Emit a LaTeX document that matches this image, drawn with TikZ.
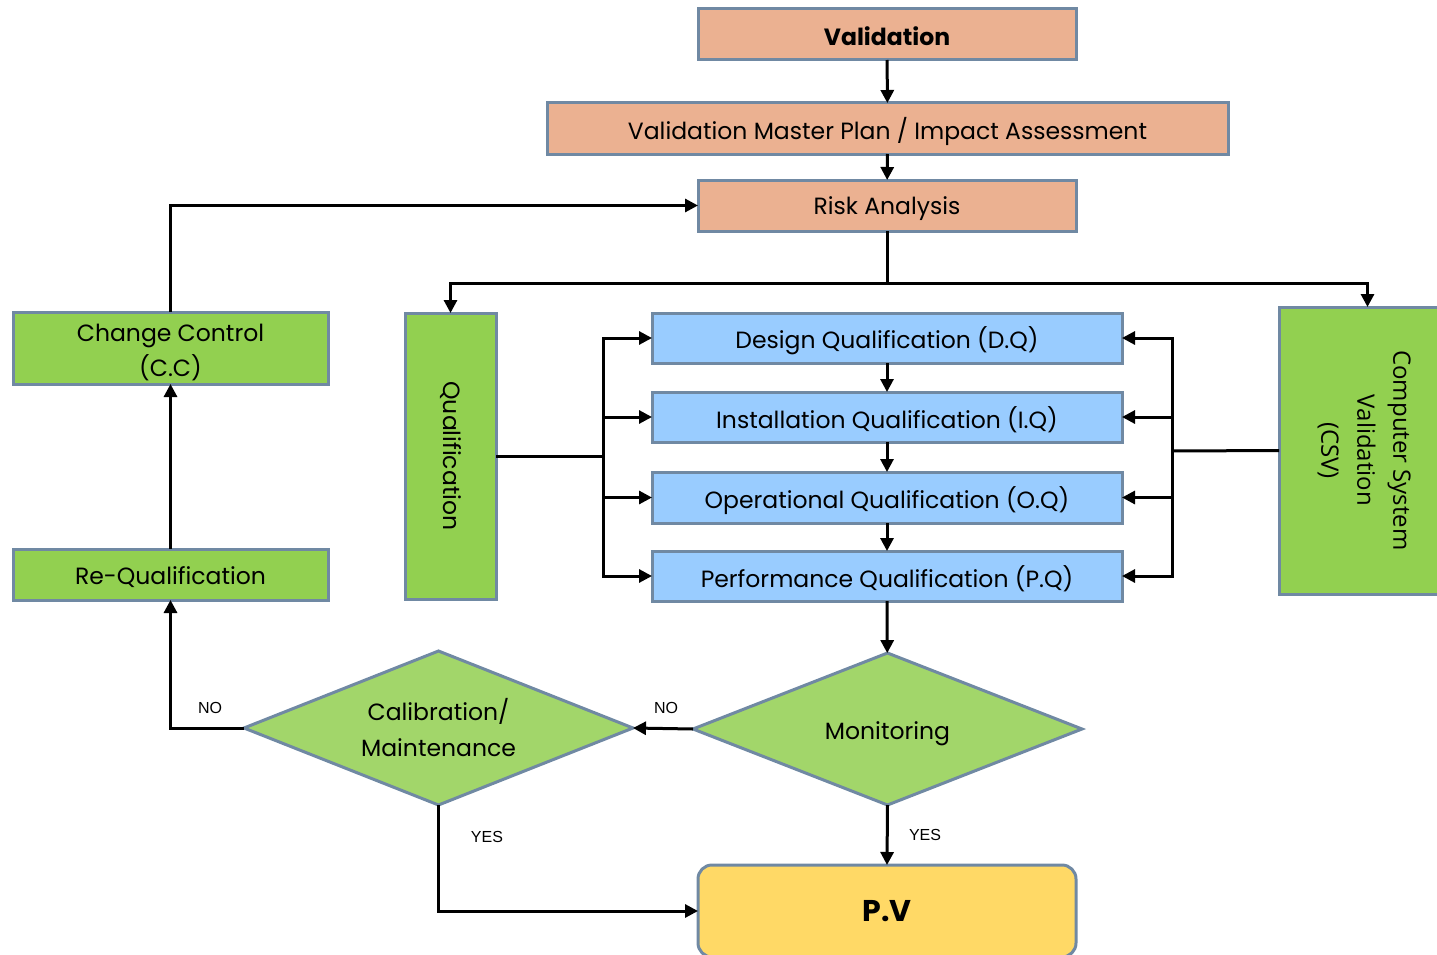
\documentclass[tikz,border=0pt]{standalone}
\usepackage{fontspec}
\setmainfont{Poppins}
\newfontfamily\csvfont{Open Sans}
\newfontfamily\lblfont{Liberation Sans}
\usetikzlibrary{shapes.geometric,arrows.meta,calc}
\definecolor{salmon}{HTML}{EBB191}
\definecolor{bord}{HTML}{7089A3}
\definecolor{bluebox}{HTML}{99CCFF}
\definecolor{greenbox}{HTML}{92D050}
\definecolor{greendia}{HTML}{A2D66A}
\definecolor{pvyellow}{HTML}{FFD966}
\newcommand{\dn}[2][3pt]{\raisebox{-#1}[\height][\depth]{#2}}
\tikzset{
  box/.style={draw=bord, line width=3pt, inner sep=0pt, outer sep=0pt, align=center, font=\fontsize{23.5}{35}\selectfont},
  salmonbox/.style={box, fill=salmon},
  bluebx/.style={box, fill=bluebox},
  greenbx/.style={box, fill=greenbox},
  dia/.style={diamond, shape aspect=2.5, draw=bord, line width=3pt, fill=greendia, inner sep=0pt, outer sep=0pt, align=center, font=\fontsize{23.5}{36}\selectfont},
  arr/.style={line width=3pt, -{Triangle[length=13pt,width=13pt]}},
  ln/.style={line width=3pt},
  lbl/.style={font=\lblfont\fontsize{16}{18}\selectfont, inner sep=0pt}
}
\begin{document}
\begin{tikzpicture}[x=1pt,y=-1pt]
\useasboundingbox (0,0) rectangle (1437,955);
% top chain
\node[salmonbox, minimum width=378pt, minimum height=51pt, font=\fontsize{23.5}{26}\selectfont\bfseries] (val) at (887,34.5) {\dn[2pt]{Validation}};
\node[salmonbox, minimum width=681pt, minimum height=51pt] (vmp) at (887.5,128.5) {\dn{Validation Master Plan / Impact Assessment}};
\node[salmonbox, minimum width=378pt, minimum height=51pt] (risk) at (887,205.5) {\dn{Risk Analysis}};
% side columns
\node[greenbx, minimum width=91pt, minimum height=286pt] (qual) at (450.5,456) {\rotatebox{-90}{Qualification}};
\node[greenbx, minimum width=171pt, minimum height=287pt] (csv) at (1364.5,450.5) {\rotatebox{-90}{\csvfont\fontsize{24}{36}\selectfont\begin{tabular}{@{}c@{}}Computer System\\Validation\\(CSV)\end{tabular}}};
% qualification boxes
\node[bluebx, minimum width=470pt, minimum height=50pt] (dq) at (887,338) {\dn{Design Qualification (D.Q)}};
\node[bluebx, minimum width=470pt, minimum height=50pt] (iq) at (887,417) {\dn{Installation Qualification (I.Q)}};
\node[bluebx, minimum width=470pt, minimum height=51pt] (oq) at (887,497.5) {\dn{Operational Qualification (O.Q)}};
\node[bluebx, minimum width=470pt, minimum height=50pt] (pq) at (887,576) {\dn{Performance Qualification (P.Q)}};
% left boxes
\node[greenbx, minimum width=315pt, minimum height=72pt] (cc) at (170.5,348) {\dn[4pt]{\begin{tabular}{@{}c@{}}Change Control\\(C.C)\end{tabular}}};
\node[greenbx, minimum width=315pt, minimum height=51pt] (rq) at (170.5,574.5) {\dn{Re-Qualification}};
% diamonds
\node[dia, minimum width=389pt, minimum height=152pt] (mon) at (887.5,729) {\dn[5pt]{Monitoring}};
\node[dia, minimum width=389pt, minimum height=154pt] (cal) at (438.5,728) {\dn{\begin{tabular}{@{}c@{}}Calibration/\\Maintenance\end{tabular}}};
% PV
\node[box, fill=pvyellow, rounded corners=14pt, minimum width=378pt, minimum height=92pt, font=\fontsize{30}{32}\selectfont\bfseries] (pv) at (887,911) {P.V};
% connectors top
\draw[arr] (val) -- (vmp);
\draw[arr] (vmp) -- (risk);
\coordinate (split) at (887,283);
\draw[ln] (risk.south) -- (split);
\draw[arr] (split) -| (qual.north);
\draw[arr] (split) -| ([xshift=3pt]csv.north);
% buses
\coordinate (lb) at (603,456);
\coordinate (rb) at (1172,451);
\draw[ln] (qual.east) -- (lb);
\draw[ln] (csv.west) -- (rb);
\foreach \n in {dq,iq,oq,pq}{
  \draw[arr] (lb) |- (\n.west);
  \draw[arr] (rb) |- (\n.east);
}
\draw[arr] (dq) -- (iq);
\draw[arr] (iq) -- (oq);
\draw[arr] (oq) -- (pq);
\draw[arr] (pq) -- (mon);
% lower flow
\draw[arr] (mon.west) -- (cal.east);
\node[lbl] (no1) at (666,708) {NO};
\draw[arr] (mon.south) -- (pv.north);
\node[lbl] (yes1) at (925,835) {YES};
\draw[arr] (cal.south) |- (pv.west);
\node[lbl] (yes2) at (487,837) {YES};
\draw[arr] (cal.west) -| (rq.south);
\node[lbl] (no2) at (210,708) {NO};
\draw[arr] (rq.north) -- (cc.south);
\draw[arr] (cc.north) |- (risk.west);
\end{tikzpicture}
\end{document}
